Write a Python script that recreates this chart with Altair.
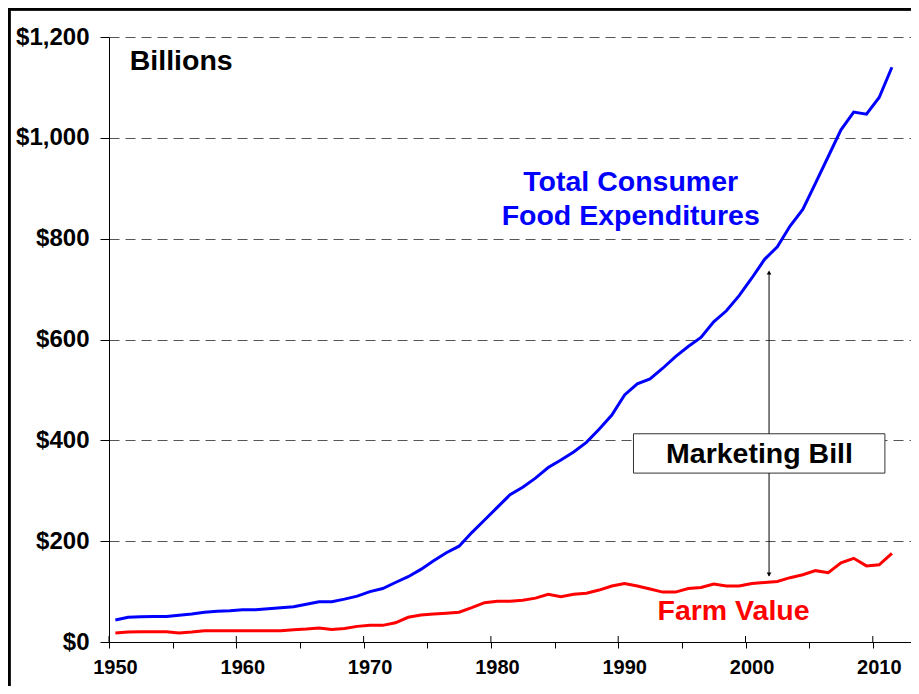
import altair as alt
import pandas as pd

# ---------------- data (billions of dollars) ----------------
years = list(range(1950, 2012))

total_expenditures = [
    43.6, 49, 50, 50.6, 50.6, 53, 55.5, 59, 61, 62,
    64, 64, 66, 68, 70, 75, 80, 80, 85, 91,
    100, 106, 118, 129.5, 144, 161, 177, 190, 217, 242,
    267, 292, 307, 325, 346, 361, 377, 396, 422, 450,
    490, 512, 522, 543, 566, 586, 604, 635, 657, 687,
    722, 759, 784, 825, 858, 910, 963, 1016, 1051, 1047, 1080, 1140,
]

farm_value = [
    17.9, 19.8, 20.5, 20.5, 20.5, 17.9, 19.8, 22.5, 22.5, 22.5,
    22.5, 22.5, 22.5, 22.5, 24.5, 25.8, 27.8, 25, 27, 31,
    33, 33, 38, 49, 53.5, 55.5, 57, 59, 68, 78,
    81, 81, 83, 87, 94.6, 90, 94.6, 96.6, 103, 111,
    116, 111, 105, 99, 99, 106, 108, 115, 111, 111,
    116, 118, 120, 127.6, 133.5, 141.5, 137.5, 157, 166, 151, 153, 176,
]

series_names = ["Total Consumer Food Expenditures", "Farm Value"]
series_colors = ["#0000FF", "#FF0000"]

y_ticks = [0, 200, 400, 600, 800, 1000, 1200]
x_ticks = list(range(1950, 2011, 5))
decade_ticks = list(range(1950, 2011, 10))

FONT = "Liberation Sans"

df = pd.DataFrame({
    "year": years * 2,
    "value": total_expenditures + farm_value,
    "series": [series_names[0]] * len(years) + [series_names[1]] * len(years),
})

x_scale = alt.Scale(domain=[1950, 2013], nice=False, zero=False)
y_scale = alt.Scale(domain=[0, 1200], nice=False, zero=True)

lines = alt.Chart(df).transform_calculate(
    pos="datum.year + 0.5"
).mark_line(strokeWidth=3).encode(
    x=alt.X("pos:Q", scale=x_scale, title=None, axis=alt.Axis(
        values=x_ticks,
        labelExpr="datum.value % 10 == 0 ? datum.value : ''",
        grid=False, tickSize=6, tickColor="black", tickWidth=1,
        domainColor="black", domainWidth=1,
        labelFont=FONT, labelFontSize=20, labelFontWeight="bold", labelColor="black",
        labelPadding=9, labelOffset=6, labelFlush=False, labelOverlap=False,
    )),
    y=alt.Y("value:Q", scale=y_scale, title=None, axis=alt.Axis(
        values=y_ticks, format="$,.0f",
        grid=True, gridDash=[10, 6], gridColor="#555555", gridWidth=1,
        tickSize=9, tickColor="black", domainColor="black", domainWidth=1,
        labelFont=FONT, labelFontSize=24, labelFontWeight="bold", labelColor="black",
        labelPadding=11, labelOverlap=False,
    )),
    color=alt.Color("series:N", scale=alt.Scale(domain=series_names, range=series_colors), legend=None),
    order="year:Q",
)

# decade ticks crossing the axis line
decade_df = pd.DataFrame({"tick": decade_ticks})
decade_rules = alt.Chart(decade_df).mark_rule(color="black", strokeWidth=1).encode(
    x=alt.X("tick:Q", scale=x_scale, title=None),
    y=alt.value(599),
    y2=alt.value(605),
)

# Marketing bill box, arrow and label
ARROW_X = 2001.85
box_df = pd.DataFrame({"x1": [1991.2], "x2": [2010.95], "y1": [335], "y2": [413]})
box = alt.Chart(box_df).mark_rect(fill="white", stroke="#333333", strokeWidth=1).encode(
    x=alt.X("x1:Q", scale=x_scale, title=None), x2="x2:Q",
    y=alt.Y("y1:Q", scale=y_scale, title=None), y2="y2:Q",
)

arrow_df = pd.DataFrame({"x": [ARROW_X, ARROW_X], "y1": [413, 131], "y2": [732, 335]})
arrow_lines = alt.Chart(arrow_df).mark_rule(color="black", strokeWidth=1).encode(
    x=alt.X("x:Q", scale=x_scale, title=None),
    y=alt.Y("y1:Q", scale=y_scale, title=None), y2="y2:Q",
)
head_df = pd.DataFrame({"x": [ARROW_X, ARROW_X], "y": [733, 134], "shape": ["triangle-up", "triangle-down"]})
arrow_heads = alt.Chart(head_df).mark_point(filled=True, color="black", size=22, opacity=1).encode(
    x=alt.X("x:Q", scale=x_scale, title=None),
    y=alt.Y("y:Q", scale=y_scale, title=None),
    shape=alt.Shape("shape:N", scale=None),
)

label_df = pd.DataFrame({
    "text": ["Total Consumer", "Food Expenditures", "Marketing Bill", "Farm Value"],
    "x": [1990.98, 1990.98, 2001.1, 1999.06],
    "y": [913, 845, 372, 61],
    "color": ["#0000FF", "#0000FF", "#000000", "#FF0000"],
})
labels = alt.Chart(label_df).mark_text(
    font=FONT, fontSize=28.5, fontWeight="bold", align="center", baseline="middle"
).encode(
    x=alt.X("x:Q", scale=x_scale, title=None),
    y=alt.Y("y:Q", scale=y_scale, title=None),
    text="text:N",
    color=alt.Color("color:N", scale=None),
)

units_df = pd.DataFrame({"text": ["Billions"], "x": [1951.63], "y": [1153]})
units = alt.Chart(units_df).mark_text(
    font=FONT, fontSize=28.5, fontWeight="bold", align="left", baseline="middle", color="black"
).encode(
    x=alt.X("x:Q", scale=x_scale, title=None),
    y=alt.Y("y:Q", scale=y_scale, title=None),
    text="text:N",
)

# outer frame (top and left edges)
frame_top = alt.Chart(decade_df).mark_rule(color="black", strokeWidth=2.5).encode(
    x=alt.value(-101), x2=alt.value(802), y=alt.value(-28)
)
frame_left = alt.Chart(decade_df).mark_rule(color="black", strokeWidth=2.5).encode(
    x=alt.value(-100), y=alt.value(-29), y2=alt.value(660)
)

chart = alt.layer(
    lines, decade_rules, box, arrow_lines, arrow_heads, labels, units, frame_top, frame_left
).resolve_scale(x="shared", y="shared").properties(
    width=802, height=605,
    padding={"left": 101, "top": 29, "right": 0, "bottom": 44},
    autosize=alt.AutoSizeParams(type="none"),
    background="white",
).configure_view(stroke=None)

chart.save("out.html", embed_options={"renderer": "svg", "actions": False})
